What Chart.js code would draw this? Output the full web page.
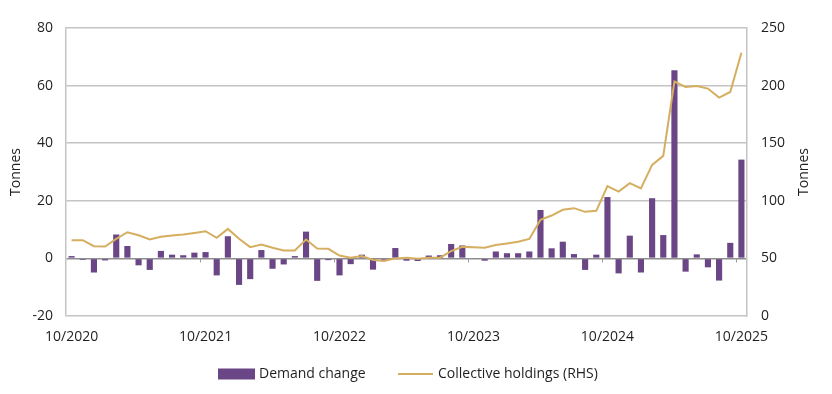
<!DOCTYPE html>
<html>
<head>
<meta charset="utf-8">
<style>
  html, body { margin: 0; padding: 0; background: #fff; }
  #wrap { width: 832px; height: 394px; position: relative; }
</style>
<script src="https://cdn.jsdelivr.net/npm/chart.js@4.4.1/dist/chart.umd.min.js"></script>
</head>
<body>
<div id="wrap"><canvas id="c" width="832" height="394"></canvas></div>
<script>
const months = [
  "10/2020","11/2020","12/2020","01/2021","02/2021","03/2021","04/2021","05/2021","06/2021","07/2021","08/2021","09/2021",
  "10/2021","11/2021","12/2021","01/2022","02/2022","03/2022","04/2022","05/2022","06/2022","07/2022","08/2022","09/2022",
  "10/2022","11/2022","12/2022","01/2023","02/2023","03/2023","04/2023","05/2023","06/2023","07/2023","08/2023","09/2023",
  "10/2023","11/2023","12/2023","01/2024","02/2024","03/2024","04/2024","05/2024","06/2024","07/2024","08/2024","09/2024",
  "10/2024","11/2024","12/2024","01/2025","02/2025","03/2025","04/2025","05/2025","06/2025","07/2025","08/2025","09/2025",
  "10/2025"
];
const demandChange = [
  0.8, -0.5, -4.9, -0.7, 8.3, 4.3, -2.4, -4.0, 2.6, 1.3, 1.1, 2.0,
  2.2, -5.9, 7.7, -9.2, -7.2, 2.9, -3.6, -2.1, 0.8, 9.3, -7.8, -0.6,
  -5.9, -2.0, 1.3, -3.9, -0.5, 3.6, -0.8, -0.9, 1.0, 1.1, 5.0, 4.5,
  0.0, -0.8, 2.4, 1.8, 1.8, 2.4, 16.8, 3.5, 5.8, 1.5, -4.0, 1.3,
  21.3, -5.2, 7.9, -4.9, 20.9, 8.1, 65.3, -4.6, 1.4, -3.1, -7.7, 5.4,
  34.3
];
const collectiveHoldings = [
  65.8, 65.8, 60.6, 60.3, 67.0, 72.7, 70.1, 66.4, 68.7, 69.8, 70.7, 72.1,
  73.6, 67.8, 75.6, 67.0, 59.8, 62.0, 59.2, 56.9, 56.9, 66.4, 58.6, 58.3,
  52.5, 50.6, 52.0, 48.6, 47.7, 50.0, 50.6, 49.7, 50.6, 50.6, 56.3, 60.0,
  59.7, 59.3, 61.6, 63.0, 64.5, 66.9, 83.4, 87.2, 92.2, 93.6, 90.4, 91.3,
  112.8, 108.0, 115.3, 110.7, 131.2, 139.0, 203.5, 198.8, 199.7, 197.4, 189.6, 194.5,
  228.6
];
const labelEvery = 12;
const leftTicks = { min: -20, max: 80, step: 20 };
const rightTicks = { min: 0, max: 250, step: 50 };
const axisTitle = "Tonnes";
const seriesNames = ["Demand change", "Collective holdings (RHS)"];

const FONT = "'Open Sans', 'Noto Sans', sans-serif";
const TEXT = "#1f1f1f";
const BAR_COLOR = '#6A4686';
const LINE_COLOR = '#D5AE5F';

const extras = {
  id: 'extras',
  afterDatasetsDraw(chart) {
    const ctx = chart.ctx;
    const xs = chart.scales.x, ys = chart.scales.y;
    const y0 = ys.getPixelForValue(0);
    ctx.save();
    ctx.strokeStyle = '#9a9a9a';
    ctx.lineWidth = 1;
    for (let i = labelEvery; i < months.length; i += labelEvery) {
      const x = Math.round((xs.getPixelForValue(i - 1) + xs.getPixelForValue(i)) / 2) + 0.5;
      ctx.beginPath();
      ctx.moveTo(x, y0);
      ctx.lineTo(x, y0 + 4);
      ctx.stroke();
    }
    ctx.restore();
  },
  afterDraw(chart) {
    const ctx = chart.ctx;
    const a = chart.chartArea;
    const cy = (a.top + a.bottom) / 2;
    ctx.save();
    ctx.fillStyle = TEXT;
    ctx.font = "14px " + FONT;
    ctx.textAlign = 'center';
    ctx.textBaseline = 'middle';
    [16, 804].forEach(x => {
      ctx.save();
      ctx.translate(x, cy);
      ctx.rotate(-Math.PI / 2);
      ctx.fillText(axisTitle, 0, 0);
      ctx.restore();
    });
    // legend
    const ly = 374;
    ctx.textAlign = 'left';
    ctx.fillStyle = chart.data.datasets[1].backgroundColor;
    ctx.fillRect(218, ly - 5.5, 37, 11);
    ctx.fillStyle = TEXT;
    ctx.fillText(chart.data.datasets[1].label, 259, ly);
    ctx.strokeStyle = chart.data.datasets[0].borderColor;
    ctx.lineWidth = 2;
    ctx.beginPath();
    ctx.moveTo(398, ly);
    ctx.lineTo(433, ly);
    ctx.stroke();
    ctx.fillText(chart.data.datasets[0].label, 438, ly);
    ctx.restore();
  }
};

new Chart(document.getElementById('c'), {
  data: {
    labels: months,
    datasets: [
      {
        type: 'line',
        label: seriesNames[1],
        data: collectiveHoldings,
        yAxisID: 'y1',
        borderColor: LINE_COLOR,
        backgroundColor: LINE_COLOR,
        borderWidth: 2,
        pointRadius: 0,
        pointHoverRadius: 0,
        tension: 0,
        order: 0
      },
      {
        type: 'bar',
        label: seriesNames[0],
        data: demandChange,
        yAxisID: 'y',
        backgroundColor: BAR_COLOR,
        borderWidth: 0,
        categoryPercentage: 1.0,
        barPercentage: 0.55,
        order: 1
      }
    ]
  },
  options: {
    responsive: false,
    animation: false,
    layout: { padding: { top: 28, left: 0, right: 0, bottom: 42 } },
    plugins: {
      tooltip: { enabled: false },
      legend: { display: false }
    },
    scales: {
      x: {
        type: 'category',
        offset: true,
        grid: { display: false, drawTicks: false },
        border: { display: false },
        ticks: {
          autoSkip: false,
          maxRotation: 0,
          minRotation: 0,
          padding: 13,
          color: TEXT,
          font: { family: FONT, size: 14 },
          callback: function(v, i) { return i % labelEvery === 0 ? months[i] : ''; }
        },
        afterFit(s) { s.height = 36; }
      },
      y: {
        position: 'left',
        min: leftTicks.min,
        max: leftTicks.max,
        ticks: {
          stepSize: leftTicks.step,
          padding: 13,
          color: TEXT,
          font: { family: FONT, size: 14 }
        },
        grid: {
          drawTicks: false,
          color: c => c.tick && c.tick.value === 0 ? '#8e8e8e' : '#c4c4c4',
          lineWidth: 1.5
        },
        border: { display: true, color: '#c4c4c4', width: 1.5 },
        afterFit(s) { s.width = 66; }
      },
      y1: {
        position: 'right',
        min: rightTicks.min,
        max: rightTicks.max,
        ticks: {
          stepSize: rightTicks.step,
          padding: 14,
          color: TEXT,
          font: { family: FONT, size: 14 }
        },
        grid: { display: false, drawTicks: false },
        border: { display: true, color: '#c4c4c4', width: 1.5 },
        afterFit(s) { s.width = 85; }
      }
    }
  },
  plugins: [extras]
});
</script>
</body>
</html>
